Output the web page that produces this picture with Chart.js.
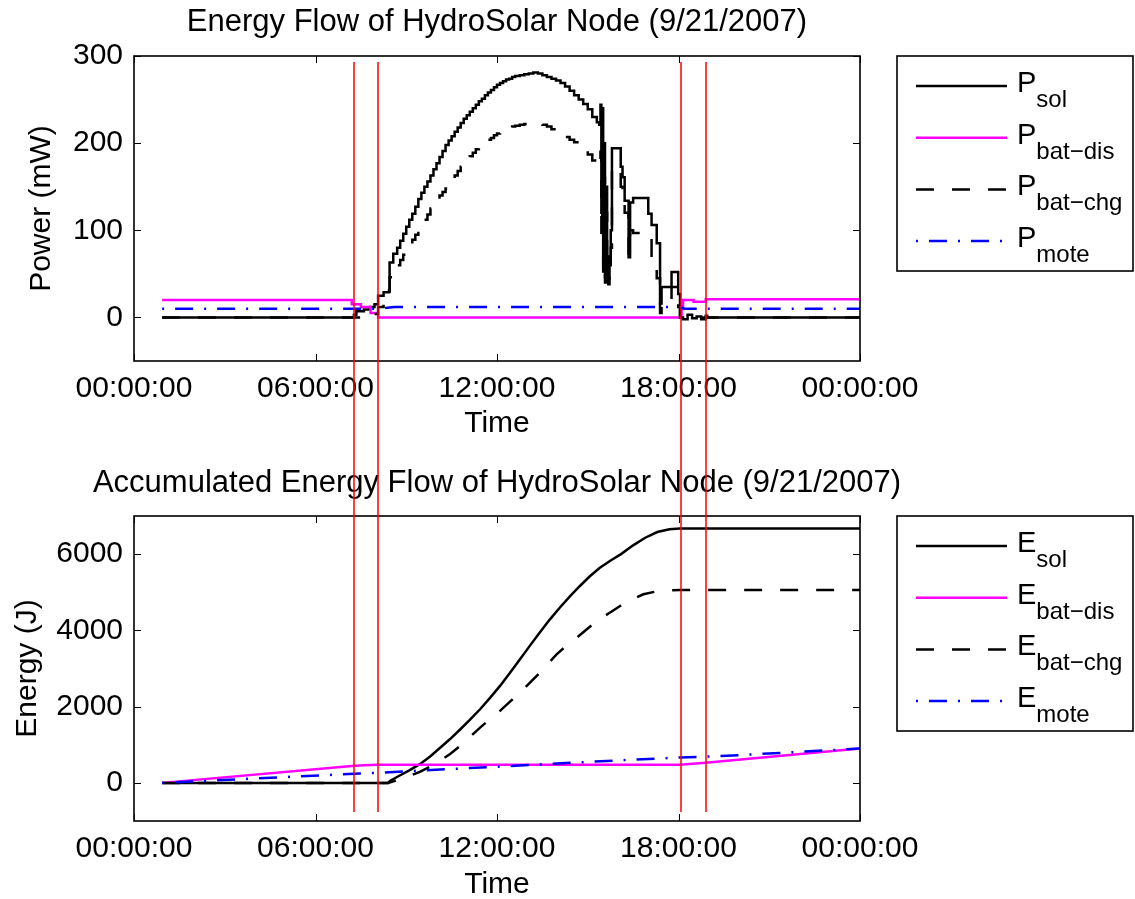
<!DOCTYPE html>
<html><head><meta charset="utf-8">
<script src="https://cdn.jsdelivr.net/npm/chart.js@4.4.0/dist/chart.umd.min.js"></script>
<style>
html,body{margin:0;padding:0;background:#fff;overflow:hidden;}
#wrap{position:relative;width:1135px;height:899px;}
canvas{position:absolute;left:0;}
#c1{top:0;}
#c2{top:450px;}
</style></head><body>
<div id="wrap">
<canvas id="c1" width="1135" height="450"></canvas>
<canvas id="c2" width="1135" height="449"></canvas>
</div>
<script>
// ---------- axis ticks ----------
const timeTicks = [0, 6, 12, 18, 24];
const timeTickLabels = ['00:00:00', '06:00:00', '12:00:00', '18:00:00', '00:00:00'];
const powerTicks = [0, 100, 200, 300];
const energyTicks = [0, 2000, 4000, 6000];

// ---------- event markers (hours) ----------
const eventTimes = [7.26, 8.07, 18.08, 18.91];

// ---------- titles / legend ----------
const powerTitle = 'Energy Flow of HydroSolar Node (9/21/2007)';
const energyTitle = 'Accumulated Energy Flow of HydroSolar Node (9/21/2007)';
const seriesSubs = ['sol', 'bat\u2212dis', 'bat\u2212chg', 'mote'];

// ---------- power (mW) vs time (hours) ----------
const powerTime = [
  0.93, 7.20, 7.27, 7.35, 7.60, 7.80, 7.95, 8.07, 8.25, 8.43,
  8.45, 8.57, 8.70, 8.80, 8.90, 9.00, 9.10, 9.20, 9.30, 9.40,
  9.50, 9.60, 9.70, 9.80, 9.90, 10.00, 10.10, 10.20, 10.30, 10.40,
  10.50, 10.60, 10.70, 10.80, 10.90, 11.00, 11.10, 11.20, 11.30, 11.40,
  11.50, 11.60, 11.70, 11.80, 11.90, 12.00, 12.10, 12.20, 12.30, 12.40,
  12.50, 12.60, 12.75, 12.90, 13.05, 13.20, 13.35, 13.50, 13.65, 13.80,
  13.95, 14.10, 14.25, 14.40, 14.55, 14.70, 14.85, 15.00, 15.15, 15.30,
  15.38, 15.42, 15.45, 15.48, 15.51, 15.54, 15.57, 15.60, 15.64, 15.68,
  15.72, 15.76, 15.80, 16.09, 16.15, 16.22, 16.35, 16.40, 16.50, 17.00,
  17.11, 17.28, 17.39, 17.44, 17.77, 17.99, 18.05, 18.15, 18.30, 18.45,
  18.60, 18.75, 18.90, 18.95, 24.00
];
const pSol = [
  0, 0, 3, 7, 9, 12, 15, 25, 29, 31,
  63, 73, 80, 88, 96, 104, 112, 119, 127, 136,
  143, 150, 156, 163, 170, 177, 184, 191, 198, 203,
  208, 213, 218, 223, 228, 232, 236, 240, 244, 248,
  251, 255, 258, 261, 264, 267, 269, 271, 273, 274,
  276, 277, 278, 279, 280, 281, 280, 278, 276, 274,
  272, 269, 265, 260, 255, 250, 245, 239, 230, 224,
  221, 244, 120, 240, 60, 200, 46, 150, 70, 45,
  60, 100, 194, 173, 161, 134, 69, 132, 137, 119,
  106, 85, 16, 35, 52, 27, 0, -2, 3, -1,
  1, -2, 2, 0, 0
];
const pBatChg = [
  0, 0, 0, 0, 0, 2, 4, 12, 16, 18,
  46, 55, 60, 66, 72, 78, 84, 89, 95, 102,
  107, 112, 118, 125, 130, 135, 140, 144, 148, 153,
  158, 163, 168, 173, 177, 181, 185, 189, 193, 196,
  199, 202, 204, 206, 209, 211, 213, 215, 217, 218,
  219, 220, 221, 222, 223, 223, 222, 221, 219, 216,
  213, 210, 207, 204, 201, 197, 192, 187, 180, 176,
  173, 190, 95, 175, 48, 160, 40, 120, 55, 38,
  50, 80, 172, 150, 140, 120, 73, 100, 97, 90,
  60, 45, 5, 20, 35, 12, 0, 0, 0, 0,
  0, 0, 0, 0, 0
];
const disTime = [0.93, 7.20, 7.50, 7.82, 8.07, 18.05, 18.10, 18.15, 18.50, 18.90, 24.00];
const pBatDis = [20, 15, 12, 5, 0, 0, 10, 20, 18, 21, 21];
const moteTime = [0.93, 8.07, 8.60, 18.05, 18.20, 24.00];
const pMote = [10, 10, 12, 12, 10, 10];

// ---------- accumulated energy (J) vs time (hours) ----------
const eSolTime = [0.93, 8.40, 8.46, 8.80, 9.10, 9.45, 9.80, 10.12, 10.45, 10.78, 11.10, 11.44, 11.77, 12.10, 12.43, 12.76, 13.09, 13.42, 13.75, 14.08, 14.41, 14.74, 15.07, 15.40, 15.77, 16.10, 16.50, 16.90, 17.30, 17.70, 18.05, 24.00];
const eSol = [0, 0, 50, 200, 330, 490, 700, 920, 1150, 1400, 1650, 1931, 2230, 2543, 2890, 3242, 3600, 3950, 4290, 4600, 4890, 5164, 5420, 5643, 5840, 6000, 6230, 6430, 6580, 6650, 6670, 6670];
const eChgTime = [0.93, 8.40, 8.50, 8.80, 9.12, 9.45, 9.80, 10.12, 10.45, 10.78, 11.10, 11.44, 11.77, 12.10, 12.43, 12.76, 13.09, 13.42, 13.70, 13.97, 14.30, 14.64, 14.97, 15.30, 15.70, 16.07, 16.45, 16.84, 17.20, 17.60, 18.05, 24.00];
const eBatChg = [0, 0, 20, 100, 183, 290, 430, 577, 760, 970, 1200, 1450, 1670, 1887, 2130, 2367, 2630, 2891, 3140, 3373, 3600, 3809, 4030, 4246, 4450, 4640, 4810, 4946, 5010, 5050, 5059, 5059];
const eDisTime = [0.93, 7.20, 7.60, 8.07, 18.05, 18.90, 24.00];
const eBatDis = [0, 445, 465, 475, 475, 530, 900];
const eMoteTime = [0.93, 7.47, 8.07, 12.00, 16.00, 18.05, 19.60, 24.00];
const eMote = [0, 245, 265, 425, 590, 665, 710, 900];

// ---------- rendering ----------
const FONT = "'Liberation Sans', Arial, Helvetica, sans-serif";
Chart.defaults.font.family = FONT;
Chart.defaults.color = '#000';

const STY = {
  sol:  { color: '#000000', dash: [] },
  dis:  { color: '#ff00ff', dash: [] },
  chg:  { color: '#000000', dash: [18, 18] },
  mote: { color: '#0000ff', dash: [2, 11, 18, 11] }
};
const LEGEND_ORDER = ['sol', 'dis', 'chg', 'mote'];

function pts(t, v) { return t.map((x, i) => ({ x: x, y: v[i] })); }

function ds(key, t, v, stepped, order) {
  return {
    data: pts(t, v), borderColor: STY[key].color, borderDash: STY[key].dash,
    borderWidth: 2.5, pointRadius: 0, tension: 0, fill: false,
    stepped: stepped ? 'before' : false, order: order
  };
}

function xScale(xh, titlePadBottom) {
  return {
    type: 'linear', min: 0, max: 24,
    afterBuildTicks: s => { s.ticks = timeTicks.map(v => ({ value: v })); },
    afterFit: s => { s.height = xh; },
    grid: { display: false, drawTicks: false },
    border: { display: false },
    ticks: { autoSkip: false, maxRotation: 0, minRotation: 0, padding: 10, color: '#000',
      font: { family: FONT, size: 30 }, callback: (v, i) => timeTickLabels[i] },
    title: { display: true, text: 'Time', color: '#000',
      font: { family: FONT, size: 30, lineHeight: 1 }, padding: { top: 0, bottom: titlePadBottom } }
  };
}

function yScale(min, max, tickArr, text, titlePadTop) {
  return {
    type: 'linear', min: min, max: max,
    afterBuildTicks: s => { s.ticks = tickArr.map(v => ({ value: v })); },
    afterFit: s => { s.width = 134; },
    grid: { display: false, drawTicks: false },
    border: { display: false },
    ticks: { padding: 11, color: '#000', font: { family: FONT, size: 30 }, callback: v => String(v) },
    title: { display: true, text: text, color: '#000',
      font: { family: FONT, size: 30, lineHeight: 1 }, padding: { top: titlePadTop, bottom: 0 } }
  };
}

function framePlugin(letter, title, titleY, legendTop, redTop, redBottom) {
  return {
    id: 'matlabFrame',
    afterDraw(chart) {
      const ctx = chart.ctx;
      const a = chart.chartArea;
      const xs = chart.scales.x, ys = chart.scales.y;
      ctx.save();
      // title, centred over the axes
      ctx.fillStyle = '#000';
      ctx.font = '31px ' + FONT;
      ctx.textAlign = 'center';
      ctx.textBaseline = 'middle';
      ctx.fillText(title, (a.left + a.right) / 2, titleY);
      // axes box
      ctx.setLineDash([]);
      ctx.strokeStyle = '#000';
      ctx.lineWidth = 1.6;
      ctx.strokeRect(a.left, a.top, a.right - a.left, a.bottom - a.top);
      // inward ticks
      ctx.lineWidth = 1;
      ctx.beginPath();
      xs.ticks.forEach(t => {
        const p = Math.round(xs.getPixelForValue(t.value)) + 0.5;
        ctx.moveTo(p, a.bottom); ctx.lineTo(p, a.bottom - 7);
        ctx.moveTo(p, a.top); ctx.lineTo(p, a.top + 7);
      });
      ys.ticks.forEach(t => {
        const p = Math.round(ys.getPixelForValue(t.value)) + 0.5;
        ctx.moveTo(a.left, p); ctx.lineTo(a.left + 7, p);
        ctx.moveTo(a.right, p); ctx.lineTo(a.right - 7, p);
      });
      ctx.stroke();
      // legend
      ctx.lineWidth = 1.6;
      ctx.strokeRect(897, legendTop, 236, 215);
      LEGEND_ORDER.forEach((k, i) => {
        const y = legendTop + 30 + i * 51.7;
        ctx.beginPath();
        ctx.setLineDash(STY[k].dash);
        ctx.lineDashOffset = 0;
        ctx.strokeStyle = STY[k].color;
        ctx.lineWidth = 2.5;
        ctx.moveTo(916, y); ctx.lineTo(1007, y);
        ctx.stroke();
        ctx.setLineDash([]);
        ctx.fillStyle = '#000';
        ctx.textBaseline = 'alphabetic';
        ctx.textAlign = 'left';
        ctx.font = '29px ' + FONT;
        ctx.fillText(letter, 1017, y + 6);
        const w = ctx.measureText(letter).width;
        ctx.font = '24px ' + FONT;
        ctx.fillText(seriesSubs[i], 1017 + w, y + 21);
      });
      // red event lines
      ctx.strokeStyle = '#ff0000';
      ctx.lineWidth = 1.5;
      eventTimes.forEach(t => {
        const p = Math.round(xs.getPixelForValue(t));
        ctx.beginPath();
        ctx.moveTo(p, redTop); ctx.lineTo(p, redBottom);
        ctx.stroke();
      });
      ctx.restore();
    }
  };
}

function commonOpts(topPad, xh, xTitlePad, yMin, yMax, yTicks, yTitle, yTitlePad) {
  return {
    responsive: false, animation: false, devicePixelRatio: 1,
    layout: { padding: { left: 0, right: 275, top: topPad, bottom: 0 } },
    plugins: { legend: { display: false }, tooltip: { enabled: false }, title: { display: false } },
    scales: { x: xScale(xh, xTitlePad), y: yScale(yMin, yMax, yTicks, yTitle, yTitlePad) }
  };
}

new Chart(document.getElementById('c1'), {
  type: 'line',
  data: { datasets: [
    ds('sol', powerTime, pSol, true, 3),
    ds('dis', disTime, pBatDis, true, 2),
    ds('chg', powerTime, pBatChg, true, 1),
    ds('mote', moteTime, pMote, false, 0)
  ] },
  options: commonOpts(56, 89, 11, -50, 300, powerTicks, 'Power (mW)', 27),
  plugins: [framePlugin('P', powerTitle, 22, 56, 62, 450)]
});

new Chart(document.getElementById('c2'), {
  type: 'line',
  data: { datasets: [
    ds('sol', eSolTime, eSol, false, 3),
    ds('dis', eDisTime, eBatDis, false, 2),
    ds('chg', eChgTime, eBatChg, false, 1),
    ds('mote', eMoteTime, eMote, false, 0)
  ] },
  options: commonOpts(66, 78, -1, -1000, 7000, energyTicks, 'Energy (J)', 13),
  plugins: [framePlugin('E', energyTitle, 33, 66, 0, 362)]
});
</script>
</body></html>
